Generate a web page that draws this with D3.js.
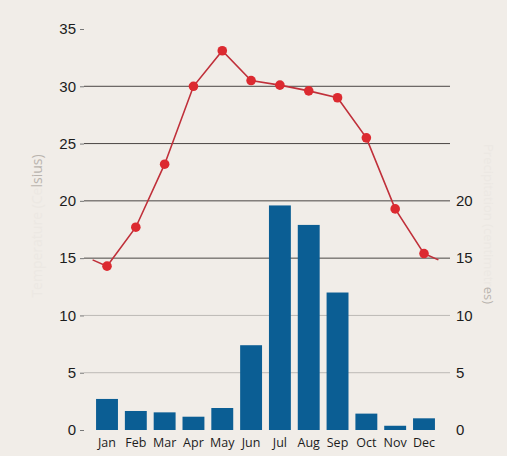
<!DOCTYPE html>
<html lang="en">
<head>
<meta charset="UTF-8">
<script src="https://d3js.org/d3.v7.min.js"></script>
<style>
  body { margin: 0; background: #f1ede8; }
  svg { font-family: "Open Sans", "Noto Sans", sans-serif; }
</style>
</head>
<body>
<div id="chart"></div>
<script>
    // data
    const months = ["Jan","Feb","Mar","Apr","May","Jun","Jul","Aug","Sep","Oct","Nov","Dec"]
    const temperature = [14.3, 17.7, 23.2, 30.0, 33.1, 30.5, 30.1, 29.6, 29.0, 25.5, 19.3, 15.4]
    const precipitation = [2.71, 1.66, 1.54, 1.16, 1.92, 7.4, 19.6, 17.9, 12.0, 1.43, 0.37, 1.02]
    const leftTicks = [0, 5, 10, 15, 20, 25, 30, 35]
    const rightTicks = [0, 5, 10, 15, 20]

    const width = 507
    const height = 456

    const svg = d3.select("#chart")
        .append("svg")
        .attr("width", width)
        .attr("height", height)

    svg.append("rect").attr("width", width).attr("height", height).attr("fill", "#f1ede8")

    // scales
    const x = d3.scaleBand()
        .domain(months)
        .range([92.6, 438.4])
        .paddingInner(0.24)
        .paddingOuter(0.12)

    const y = d3.scaleLinear()
        .domain([0, 35])
        .range([430, 29])

    const yRight = d3.scaleLinear()
        .domain([0, 35])
        .range([430, 29])

    // gridlines
    svg.append("g")
        .selectAll("line")
        .data(leftTicks.filter(d => d > 0 && d < 35))
        .join("line")
          .attr("x1", 84)
          .attr("x2", 450)
          .attr("y1", d => y(d))
          .attr("y2", d => y(d))
          .attr("stroke", d => d >= 15 ? "#4a4644" : "#bdb9b5")
          .attr("stroke-width", 1)

    // left axis
    const leftAxis = svg.append("g")
        .attr("transform", "translate(84,0)")
        .call(d3.axisLeft(y).tickValues(leftTicks).tickSize(4).tickPadding(4))
    leftAxis.select(".domain").remove()
    leftAxis.selectAll(".tick line").attr("stroke", "#777")
    leftAxis.selectAll("text").attr("font-size", 15).attr("fill", "#1c1c1c")

    // right axis
    const rightAxis = svg.append("g")
        .attr("transform", "translate(450,0)")
        .call(d3.axisRight(yRight).tickValues(rightTicks).tickSize(0).tickPadding(6))
    rightAxis.select(".domain").remove()
    rightAxis.selectAll("text").attr("font-size", 15).attr("fill", "#1c1c1c")

    // bars
    const mid = x.bandwidth() / 2
    svg.append("g")
        .selectAll("rect")
        .data(months)
        .join("rect")
          .attr("x", d => x(d))
          .attr("width", x.bandwidth())
          .attr("y", (d, i) => yRight(precipitation[i]))
          .attr("height", (d, i) => yRight(0) - yRight(precipitation[i]))
          .attr("fill", "#0b5e94")

    // month labels
    svg.append("g")
        .selectAll("text")
        .data(months)
        .join("text")
          .attr("x", d => x(d) + mid)
          .attr("y", 447)
          .attr("text-anchor", "middle")
          .attr("font-size", 12.5)
          .attr("fill", "#1c1c1c")
          .text(d => d)

    // temperature line, wrapping half a step past Jan and Dec
    const wrapVal = (temperature[0] + temperature[11]) / 2
    const step = x.step()
    const linePts = [[x("Jan") + mid - step / 2, wrapVal]]
        .concat(months.map((m, i) => [x(m) + mid, temperature[i]]))
        .concat([[x("Dec") + mid + step / 2, wrapVal]])

    svg.append("path")
        .datum(linePts)
        .attr("fill", "none")
        .attr("stroke", "#c0303a")
        .attr("stroke-width", 1.6)
        .attr("d", d3.line().x(d => d[0]).y(d => y(d[1])))

    svg.append("g")
        .selectAll("circle")
        .data(months)
        .join("circle")
          .attr("cx", d => x(d) + mid)
          .attr("cy", (d, i) => y(temperature[i]))
          .attr("r", 4.8)
          .attr("fill", "#dc2a30")

    // axis titles (mostly faded out)
    const leftTitle = svg.append("text")
        .attr("transform", "translate(42,226) rotate(-90)")
        .attr("text-anchor", "middle")
        .attr("font-size", 14)
        .attr("fill", "#ece8e3")
    leftTitle.append("tspan").text("Temperature (Ce")
    leftTitle.append("tspan").attr("fill", "#b9b4ae").text("lsius)")

    const rightTitle = svg.append("text")
        .attr("transform", "translate(484,224) rotate(90)")
        .attr("text-anchor", "middle")
        .attr("font-size", 13)
        .attr("fill", "#ece8e3")
    rightTitle.append("tspan").text("Precipitation (centimetr")
    rightTitle.append("tspan").attr("fill", "#b9b4ae").text("es)")
</script>
</body>
</html>
